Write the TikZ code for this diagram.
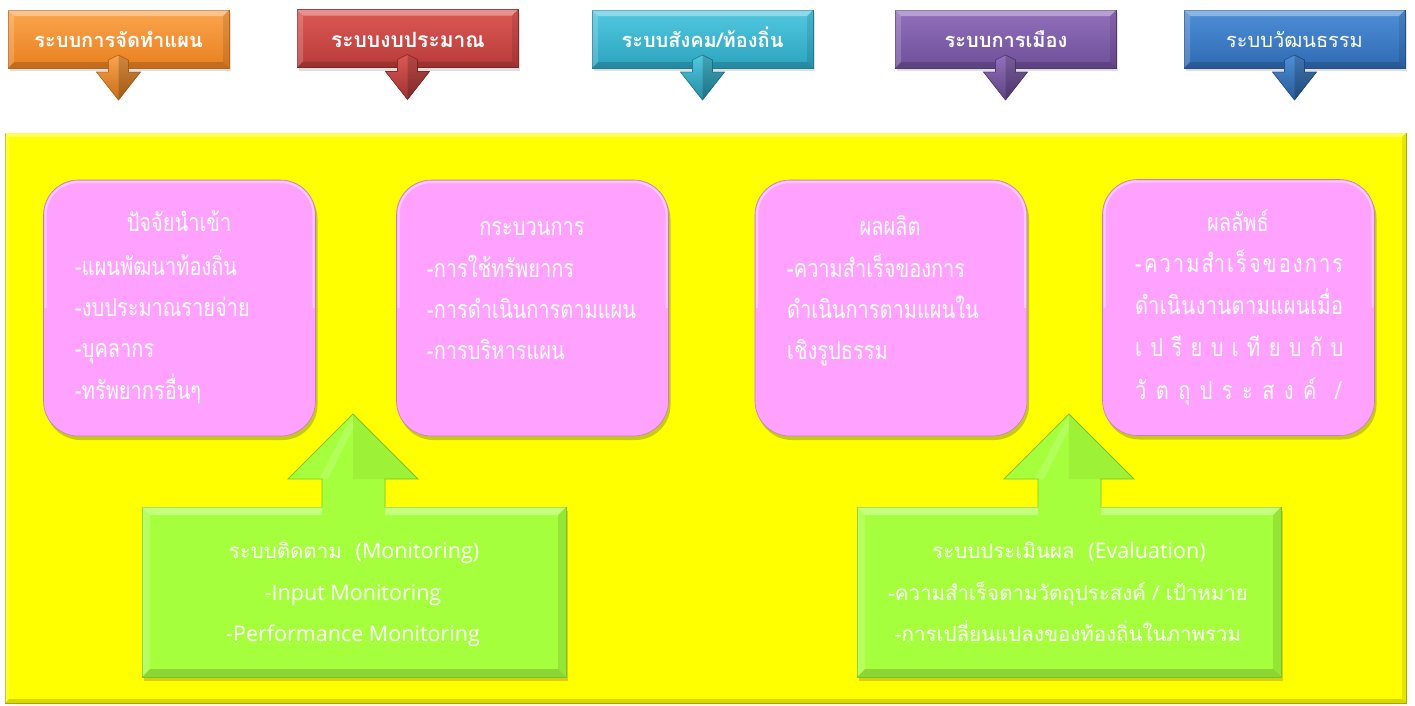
\documentclass[tikz,border=0pt]{standalone}
\usepackage{fontspec}
\newfontfamily\thai[Script=Thai]{Loma}
\newfontfamily\thaic[Script=Thai,FakeStretch=0.8]{Loma}
\newfontfamily\latf{Open Sans}
\usetikzlibrary{shadows,calc}
\definecolor{orT}{HTML}{FBA54E}\definecolor{orB}{HTML}{E8801F}\definecolor{orD}{HTML}{C0651A}
\definecolor{rdT}{HTML}{DC5955}\definecolor{rdB}{HTML}{B83B39}\definecolor{rdD}{HTML}{8E2A28}
\definecolor{cyT}{HTML}{52C8E0}\definecolor{cyB}{HTML}{2CA4BF}\definecolor{cyD}{HTML}{1E7F96}
\definecolor{puT}{HTML}{9270BC}\definecolor{puB}{HTML}{6F4F99}\definecolor{puD}{HTML}{533A75}
\definecolor{blT}{HTML}{4E8FD8}\definecolor{blB}{HTML}{2F6AB2}\definecolor{blD}{HTML}{24528A}
\definecolor{yel}{HTML}{FFFF00}\definecolor{yelD}{HTML}{A8A800}
\definecolor{pnk}{HTML}{FFA2FF}\definecolor{pnkD}{HTML}{C77AC7}
\definecolor{grn}{HTML}{A6FF3C}\definecolor{grnD}{HTML}{7CC72A}
\newcommand\bevel[2]{%
 \fill[white,opacity=0.35] (#1.north west) -- (#1.north east) -- ([xshift=-#2,yshift=-#2]#1.north east) -- ([xshift=#2,yshift=-#2]#1.north west) -- cycle;
 \fill[white,opacity=0.18] (#1.north west) -- (#1.south west) -- ([xshift=#2,yshift=#2]#1.south west) -- ([xshift=#2,yshift=-#2]#1.north west) -- cycle;
 \fill[black,opacity=0.16] (#1.south west) -- (#1.south east) -- ([xshift=-#2,yshift=#2]#1.south east) -- ([xshift=#2,yshift=#2]#1.south west) -- cycle;
 \fill[black,opacity=0.10] (#1.north east) -- (#1.south east) -- ([xshift=-#2,yshift=#2]#1.south east) -- ([xshift=-#2,yshift=-#2]#1.north east) -- cycle;}
\newcommand\dnarr[4]{%
 \fill[top color=#2, bottom color=#3, draw=#4, line width=0.6pt] (#1) -- ++(-22,-28) -- ++(12,0) -- ++(0,-12) -- ++(10,-5) -- ++(10,5) -- ++(0,12) -- ++(12,0) -- cycle;
 \fill[black,opacity=0.18] (#1) -- ++(0,-45) -- ++(10,5) -- ++(0,12) -- ++(12,0) -- cycle;}
\newcommand\uparr[1]{%
 \fill[grn] (#1) -- ++(65,65) -- ++(-33,0) -- ++(0,40) -- ++(-63,0) -- ++(0,-40) -- ++(-34,0) -- cycle;
 \fill[white,opacity=0.15] (#1) -- ++(-34,65) -- ++(9,0) -- ++(25,-50) -- cycle;
 \draw[grnD, line width=0.8pt] ($(#1)+(-31,93)$) -- ++(0,-28) -- ++(-34,0) -- (#1) -- ++(65,65) -- ++(-33,0) -- ++(0,28);
 \fill[black,opacity=0.05] (#1) -- ++(65,65) -- ++(-65,0) -- cycle;}
\begin{document}
\begin{tikzpicture}[x=1pt,y=-1pt,
  topbox/.style={rectangle, minimum width=221pt, minimum height=58pt, outer sep=0pt, line width=0.8pt, drop shadow={shadow xshift=2pt, shadow yshift=-3pt, opacity=0.25}},
  toptext/.style={anchor=base, text=white, inner sep=0pt, font=\thai\bfseries\fontsize{20}{24}\selectfont},
  panel/.style={rectangle, fill=yel, minimum width=1401pt, minimum height=570pt, outer sep=0pt},
  pinkbox/.style={rectangle, rounded corners=35pt, fill=pnk, draw=pnkD, line width=0.6pt, minimum width=272pt, minimum height=256pt, outer sep=0pt, drop shadow={shadow xshift=2pt, shadow yshift=-4pt, opacity=0.3, fill=black!70}},
  ptxt/.style={anchor=base west, text=white, inner sep=0pt, font=\thaic\fontsize{25}{29}\selectfont},
  ptitle/.style={ptxt, anchor=base},
  grnbox/.style={rectangle, fill=grn, draw=grnD, line width=0.8pt, minimum width=424pt, minimum height=170pt, outer sep=0pt, drop shadow={shadow xshift=2pt, shadow yshift=-4pt, opacity=0.25, fill=black!70}},
  gtxt/.style={anchor=base, text=white, inner sep=0pt, font=\thai\fontsize{20.5}{24}\selectfont},
  gltxt/.style={gtxt, font=\latf\fontsize{21.5}{24}\selectfont}
]
\useasboundingbox[fill=white] (0,0) rectangle (1415,705);
% top boxes
\node[topbox, top color=orT, bottom color=orB, draw=orD] (t1) at (118.5,39) {};
\node[topbox, top color=rdT, bottom color=rdB, draw=rdD] (t2) at (407.5,38.5) {};
\node[topbox, top color=cyT, bottom color=cyB, draw=cyD] (t3) at (702.5,39) {};
\node[topbox, top color=puT, bottom color=puB, draw=puD] (t4) at (1005.5,39) {};
\node[topbox, top color=blT, bottom color=blB, draw=blD] (t5) at (1294.5,39) {};
\bevel{t1}{6pt}\bevel{t2}{6pt}\bevel{t3}{6pt}\bevel{t4}{6pt}\bevel{t5}{6pt}
\node[toptext] (t1t) at (118.5,47) {ระบบการจัดทำแผน};
\node[toptext, font=\thai\bfseries\fontsize{21}{24}\selectfont] (t2t) at (408,47) {ระบบงบประมาณ};
\node[toptext] (t3t) at (702.5,47) {ระบบสังคม/ท้องถิ่น};
\node[toptext] (t4t) at (1006,47) {ระบบการเมือง};
\node[toptext, font=\thai\fontsize{20}{24}\selectfont] (t5t) at (1294.5,47) {ระบบวัฒนธรรม};
\coordinate (a1) at ([yshift=-32pt]t1.south);
\coordinate (a2) at ([yshift=-32pt]t2.south);
\coordinate (a3) at ([yshift=-32pt]t3.south);
\coordinate (a4) at ([yshift=-32pt]t4.south);
\coordinate (a5) at ([yshift=-32pt]t5.south);
\dnarr{a1}{orT}{orB!85!black}{orD}
\dnarr{a2}{rdT}{rdB!85!black}{rdD}
\dnarr{a3}{cyT}{cyB!85!black}{cyD}
\dnarr{a4}{puT}{puB!85!black}{puD}
\dnarr{a5}{blT}{blB!85!black}{blD}
% panel
\node[panel] (panel) at (705.5,418) {};
\bevel{panel}{4pt}
\draw[yelD, line width=1pt] (panel.north east) -- (panel.south east) -- (panel.south west);
\draw[yelD!70, line width=0.6pt] (panel.north west) -- (panel.south west);
% pink boxes
\node[pinkbox] (p1) at (179.5,308) {};
\node[pinkbox] (p2) at (532.5,308) {};
\node[pinkbox] (p3) at (891,308) {};
\node[pinkbox] (p4) at (1238.5,307.5) {};
\foreach \p in {p1,p2,p3,p4}{
  \draw[white, opacity=0.45, line width=2pt, rounded corners=33pt] ([xshift=2pt]\p.west) -- ([xshift=2pt,yshift=-2pt]\p.north west) -- ([xshift=-2pt,yshift=-2pt]\p.north east) -- ([xshift=-2pt]\p.east);
}
\node[ptitle] (p1a) at (179,231) {ปัจจัยนำเข้า};
\node[ptxt] (p1b) at (75,275) {-แผนพัฒนาท้องถิ่น};
\node[ptxt] (p1c) at (75,316) {-งบประมาณรายจ่าย};
\node[ptxt] (p1d) at (75,357) {-บุคลากร};
\node[ptxt] (p1e) at (75,399) {-ทรัพยากรอื่นๆ};
\node[ptitle] (p2a) at (532,235) {กระบวนการ};
\node[ptxt] (p2b) at (427,277) {-การใช้ทรัพยากร};
\node[ptxt] (p2c) at (427,318) {-การดำเนินการตามแผน};
\node[ptxt] (p2d) at (427,359) {-การบริหารแผน};
\node[ptitle] (p3a) at (890,235) {ผลผลิต};
\node[ptxt] (p3b) at (787,277) {-ความสำเร็จของการ};
\node[ptxt] (p3c) at (787,318) {ดำเนินการตามแผนใน};
\node[ptxt] (p3d) at (787,359) {เชิงรูปธรรม};
\node[ptitle] (p4a) at (1238,231) {ผลลัพธ์};
\node[ptxt] (p4b) at (1135,272) {\makebox[208pt][s]{-\hfill ค\hfill ว\hfill า\hfill ม\hfill สำ\hfill เ\hfill ร็\hfill จ\hfill ข\hfill อ\hfill ง\hfill ก\hfill า\hfill ร}};
\node[ptxt] (p4c) at (1135,314) {\makebox[208pt][s]{ดำ\hfill เ\hfill นิ\hfill น\hfill ง\hfill า\hfill น\hfill ต\hfill า\hfill ม\hfill แ\hfill ผ\hfill น\hfill เ\hfill มื่\hfill อ}};
\node[ptxt] (p4d) at (1135,356) {\makebox[208pt][s]{เ\hfill ป\hfill รี\hfill ย\hfill บ\hfill เ\hfill ที\hfill ย\hfill บ\hfill กั\hfill บ}};
\node[ptxt] (p4e) at (1135,399) {\makebox[206pt][s]{วั\hfill ต\hfill ถุ\hfill ป\hfill ร\hfill ะ\hfill ส\hfill ง\hfill ค์\hfill\hfill /}};
% green boxes
\node[grnbox] (g1) at (354,592) {};
\node[grnbox] (g2) at (1069,592) {};
\bevel{g1}{8pt}\bevel{g2}{8pt}
\coordinate (u1) at (353,414);
\coordinate (u2) at (1069,414);
\uparr{u1}\uparr{u2}
\node[gtxt] (g1a) at (354,558) {ระบบติดตาม\ \ {\latf\fontsize{21.5}{24}\selectfont(Monitoring)}};
\node[gltxt] (g1b) at (353,600) {-Input Monitoring};
\node[gltxt] (g1c) at (353,641) {-Performance Monitoring};
\node[gtxt] (g2a) at (1069,558) {ระบบประเมินผล\ \ {\latf\fontsize{21.5}{24}\selectfont(Evaluation)}};
\node[gtxt] (g2b) at (1068,600) {-ความสำเร็จตามวัตถุประสงค์ / เป้าหมาย};
\node[gtxt] (g2c) at (1068,641) {-การเปลี่ยนแปลงของท้องถิ่นในภาพรวม};
\end{tikzpicture}
\end{document}
